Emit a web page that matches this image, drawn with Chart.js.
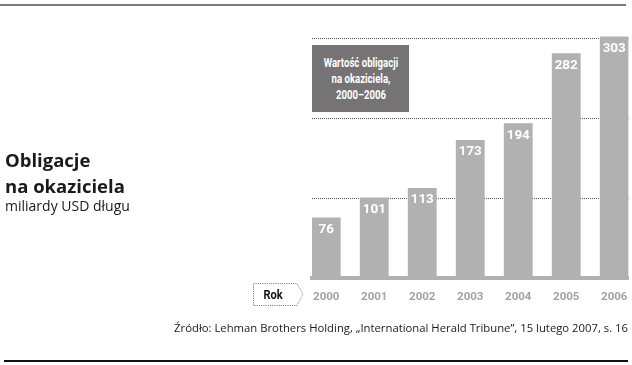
<!DOCTYPE html>
<html>
<head>
<meta charset="utf-8">
<script src="https://cdn.jsdelivr.net/npm/chart.js@4.4.1/dist/chart.umd.min.js"></script>
<style>
  html, body { margin:0; padding:0; background:#fff; width:632px; height:365px; overflow:hidden; }
  #wrap { position:relative; width:632px; height:365px; }
  canvas { position:absolute; left:0; top:0; }
  .abs { position:absolute; white-space:nowrap; }
  #topRule { left:0; top:4px; width:626px; height:2px; background:#7b7b7b; }
  #botRule { left:4px; top:360px; width:624px; height:2px; background:#111; }
  #title { left:5px; top:147px; font-family:"Open Sans", sans-serif; font-weight:700; font-size:18.5px; line-height:25.5px; color:#1a1a1a; }
  #subtitle { left:5px; top:196px; font-family:"Open Sans", sans-serif; font-size:14px; color:#1a1a1a; }
  #box { left:312px; top:45px; width:97px; height:67px; background:#757373; }
  #boxText { position:absolute; left:50%; top:50%; transform:translate(-50%,-50%) scaleX(0.8); color:#fff; text-align:center;
             font-family:Roboto, "Open Sans", sans-serif; font-weight:700; font-size:12px; line-height:16px; white-space:nowrap; }
  #source { right:4px; top:320px; font-family:"Open Sans", sans-serif; font-size:11.3px; color:#1a1a1a; }
</style>
</head>
<body>
<div id="wrap">
  <canvas id="c" width="632" height="365"></canvas>
  <div class="abs" id="topRule"></div>
  <div class="abs" id="botRule"></div>
  <div class="abs" id="title">Obligacje<br>na okaziciela</div>
  <div class="abs" id="subtitle">miliardy USD długu</div>
  <div class="abs" id="box"><div id="boxText">Wartość obligacji<br>na okaziciela,<br>2000–2006</div></div>
  <svg class="abs" style="left:0;top:0" width="632" height="365">
    <path d="M253.5,283.5 H297 L303,294 L297,305.5 H253.5 Z" fill="none" stroke="#6f6f6f" stroke-width="1" stroke-dasharray="1,1.2"/>
    <text x="273" y="299" text-anchor="middle" font-family="Roboto, Open Sans, sans-serif" font-weight="700" font-size="13" fill="#111" transform="translate(273,0) scale(0.85,1) translate(-273,0)">Rok</text>
  </svg>
  <div class="abs" id="source">Źródło: Lehman Brothers Holding, „International Herald Tribune”, 15 lutego 2007, s. 16</div>
</div>
<script>
const years = ["2000","2001","2002","2003","2004","2005","2006"];
const values = [76, 101, 113, 173, 194, 282, 303];
const gridTicks = [100, 200, 300];

const labelFont = 'Roboto, "Open Sans", sans-serif';

const valueLabels = {
  id: 'valueLabels',
  afterDatasetsDraw(chart) {
    const ctx = chart.ctx;
    const meta = chart.getDatasetMeta(0);
    ctx.save();
    ctx.fillStyle = '#ffffff';
    ctx.font = '700 13.5px ' + labelFont;
    ctx.textAlign = 'center';
    ctx.textBaseline = 'middle';
    meta.data.forEach((bar, i) => {
      ctx.fillText(String(values[i]), bar.x, bar.y + 12);
    });
    ctx.restore();
  }
};

new Chart(document.getElementById('c'), {
  type: 'bar',
  data: {
    datasets: [{
      data: values.map((v, i) => ({x: i, y: v})),
      backgroundColor: '#b2b1b1',
      borderWidth: 0,
      barPercentage: 0.6,
      categoryPercentage: 1
    }]
  },
  options: {
    responsive: false,
    animation: false,
    events: [],
    layout: { padding: { left: 312, right: 3.5, top: 30, bottom: 59.2 } },
    plugins: { legend: { display: false }, tooltip: { enabled: false } },
    scales: {
      x: {
        type: 'linear',
        offset: false,
        min: -0.297,
        max: 6.297,
        afterBuildTicks: s => { s.ticks = years.map((_, i) => ({ value: i })); },
        ticks: {
          autoSkip: false,
          maxRotation: 0,
          padding: 2,
          color: '#a3a3a3',
          font: { family: labelFont, weight: '700', size: 11.5 },
          callback: v => years[v] ?? ''
        },
        grid: { display: true, drawOnChartArea: false, drawTicks: true, tickLength: 10, tickColor: 'rgba(0,0,0,0)', color: 'rgba(0,0,0,0)' },
        border: { display: true, color: '#b2b1b1', width: 4 }
      },
      y: {
        min: 0,
        max: 311,
        afterBuildTicks: s => { s.ticks = gridTicks.map(v => ({ value: v })); },
        ticks: { display: false },
        grid: { color: '#555', lineWidth: 1, drawTicks: false },
        border: { display: false, dash: [1, 1] }
      }
    }
  },
  plugins: [valueLabels]
});
</script>
</body>
</html>
